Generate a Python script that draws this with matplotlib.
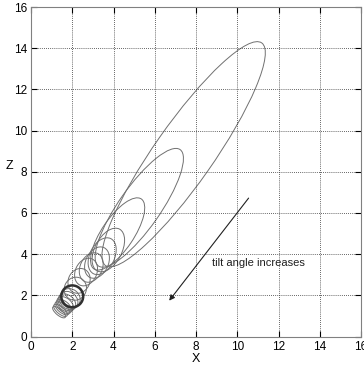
import matplotlib
matplotlib.use("Agg")
import matplotlib.pyplot as plt
from matplotlib.patches import Ellipse

# footprint ellipses, far (small tilt) to near: centre x, centre z, major, minor, angle
ell_x     = [7.40, 5.25, 4.20, 3.75, 3.45, 3.20, 2.92, 2.67, 2.33, 2.15,
             1.90, 1.82, 1.74, 1.66, 1.59, 1.51, 1.43, 1.36]
ell_z     = [8.85, 6.25, 4.98, 4.20, 3.90, 3.59, 3.35, 3.13, 2.70, 2.32,
             1.85, 1.75, 1.66, 1.56, 1.46, 1.37, 1.27, 1.18]
ell_major = [13.2, 6.9, 4.1, 2.3, 1.9, 1.6, 1.5, 1.4, 1.24, 1.14,
             1.02, 0.98, 0.95, 0.92, 0.88, 0.85, 0.82, 0.78]
ell_minor = [2.85, 2.0, 1.55, 1.3, 1.2, 1.1, 1.07, 1.04, 1.04, 1.06,
             0.90, 0.80, 0.70, 0.60, 0.50, 0.42, 0.35, 0.30]
ell_angle = [55, 55, 56, 62, 64, 65, 65, 65, 65, 60,
             140, 140, 140, 140, 140, 140, 140, 140]

# the highlighted (circular) footprint
circ_x, circ_z, circ_r = 2.0, 1.95, 0.53

# arrow and its note
arrow_from = (10.55, 6.72)
arrow_to   = (6.70, 1.74)
note_xy    = (8.78, 3.56)
note_text  = "tilt angle increases"

ticks = [0, 2, 4, 6, 8, 10, 12, 14, 16]

plt.rcParams["font.family"] = ["Liberation Sans", "DejaVu Sans"]

fig = plt.figure(figsize=(3.64, 3.66), dpi=100)
ax  = fig.add_axes([31/364, 1 - 336.5/366, 330/364, 329.5/366])

for x, z, w, h, a in zip(ell_x, ell_z, ell_major, ell_minor, ell_angle):
    ax.add_patch(Ellipse((x, z), w, h, angle=a, fill=False,
                         edgecolor="#707070", linewidth=0.7))

ax.add_patch(Ellipse((circ_x, circ_z), 2*circ_r, 2*circ_r, fill=False,
                     edgecolor="#303030", linewidth=1.8))

ax.annotate("", xy=arrow_to, xytext=arrow_from,
            arrowprops=dict(arrowstyle="-|>", color="#202020", lw=0.8,
                            mutation_scale=8, shrinkA=0, shrinkB=0))
ax.text(*note_xy, note_text, fontsize=8, va="center", ha="left", color="#202020")

ax.set_xlim(0, 16)
ax.set_ylim(0, 16)
ax.set_xticks(ticks)
ax.set_yticks(ticks)
ax.grid(True, color="#333333", linestyle=(0, (1, 1.5)), linewidth=0.6)
ax.tick_params(direction="in", top=True, right=True, length=4, labelsize=8.5, pad=3)
for s in ax.spines.values():
    s.set_color("#808080")
    s.set_linewidth(0.8)

ax.set_xlabel("X", fontsize=9, labelpad=0)
ax.set_ylabel("Z", fontsize=9, rotation=0, labelpad=3)

fig.savefig("out.png", dpi=100)
